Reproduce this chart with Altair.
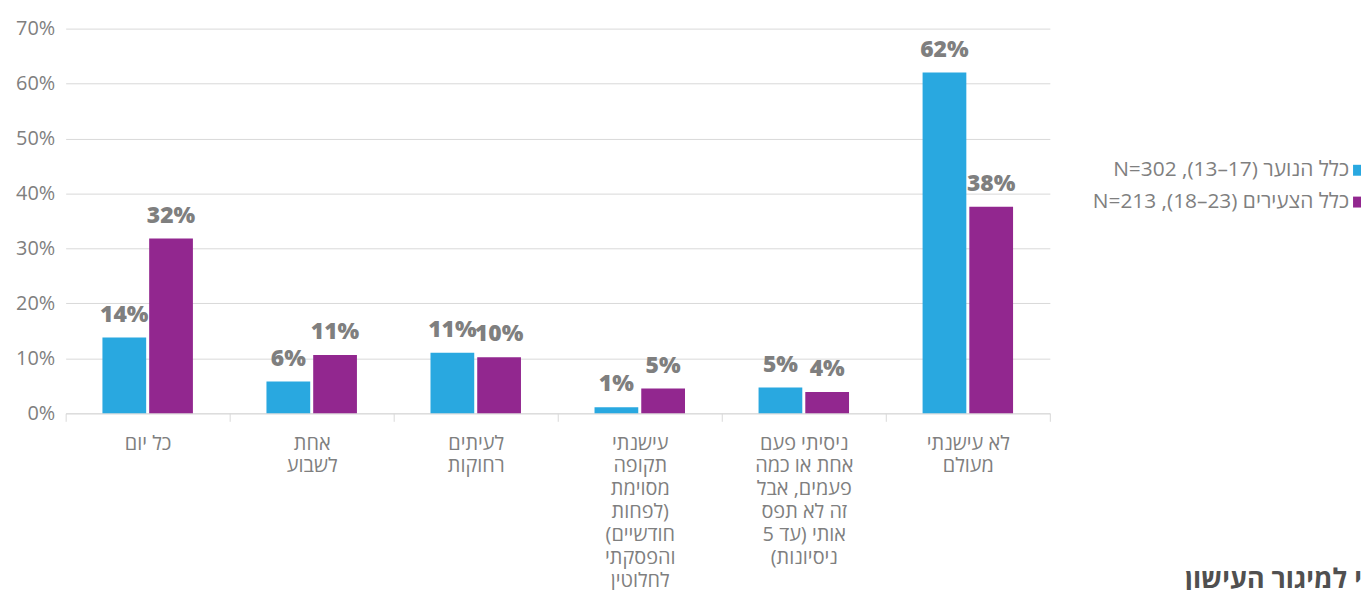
import altair as alt
import pandas as pd

LRI, RLI, PDI = "\u2066", "\u2067", "\u2069"

categories = [
    "כל יום",
    "אחת|לשבוע",
    "לעיתים|רחוקות",
    "עישנתי|תקופה|מסוימת|לפחות)|(חודשיים|והפסקתי|לחלוטין",
    "ניסיתי פעם|אחת או כמה|פעמים, אבל|זה לא תפס|אותי (עד 5|(ניסיונות",
    "לא עישנתי|מעולם",
]
series = [
    RLI + "כלל הנוער (" + LRI + "13–17" + PDI + "), N=302" + PDI,
    RLI + "כלל הצעירים (" + LRI + "18–23" + PDI + "), N=213" + PDI,
]
youth = [13.8, 5.8, 11.0, 1.1, 4.7, 62.0]
young_adults = [31.8, 10.6, 10.2, 4.5, 3.9, 37.6]
youth_labels = ["14%", "6%", "11%", "1%", "5%", "62%"]
young_labels = ["32%", "11%", "10%", "5%", "4%", "38%"]
y_ticks = [0, 10, 20, 30, 40, 50, 60, 70]
colors = ["#29a8e0", "#92278f"]
logo_text = ["המיזם הלאומי למיגור העישון"]

rows = []
for i, c in enumerate(categories):
    rows.append(dict(cat=c, series=series[0], value=youth[i], label=youth_labels[i]))
    rows.append(dict(cat=c, series=series[1], value=young_adults[i], label=young_labels[i]))
df = pd.DataFrame(rows)

FONT = "Open Sans, DejaVu Sans, sans-serif"
GRAY = "#7f7f7f"
LIGHT = "#d9d9d9"

x = alt.X(
    "cat:N",
    sort=categories,
    scale=alt.Scale(paddingInner=0, paddingOuter=0),
    axis=alt.Axis(
        title=None,
        labelExpr="split(datum.label, '|')",
        labelAngle=0,
        labelFontSize=20,
        labelColor=GRAY,
        labelFont=FONT,
        labelLineHeight=23,
        labelPadding=12,
        labelBaseline="top",
        labelLimit=400,
        labelOverlap=False,
        ticks=True,
        tickBand="extent",
        tickSize=8,
        tickColor=LIGHT,
        domainColor=LIGHT,
        grid=False,
    ),
)
xo = alt.XOffset(
    "series:N",
    sort=series,
    scale=alt.Scale(paddingInner=0.064, paddingOuter=0.787),
)
y = alt.Y(
    "value:Q",
    scale=alt.Scale(domain=[0, 70]),
    axis=alt.Axis(
        title=None,
        values=y_ticks,
        labelExpr="datum.value + '%'",
        labelFontSize=20,
        labelColor=GRAY,
        labelFont=FONT,
        domain=False,
        ticks=False,
        labelPadding=11,
        gridColor=LIGHT,
    ),
)
color = alt.Color(
    "series:N",
    sort=series,
    scale=alt.Scale(domain=series, range=colors),
    legend=alt.Legend(
        title=None,
        orient="none",
        legendX=1290,
        legendY=132,
        direction="vertical",
        symbolType="square",
        symbolSize=121,
        symbolStrokeWidth=0,
        labelAlign="right",
        labelOffset={"expr": "-20"},
        labelFontSize=21,
        labelColor=GRAY,
        labelFont=FONT,
        rowPadding=10,
        padding=0,
        labelLimit=400,
    ),
)

bars = alt.Chart(df).mark_bar().encode(x=x, xOffset=xo, y=y, color=color)
labels = alt.Chart(df).mark_text(
    dy=-16, baseline="alphabetic", fontSize=23, fontWeight=800, color=GRAY, font=FONT
).encode(x=x, xOffset=xo, y=y, text="label:N")

logo = alt.Chart(pd.DataFrame({"t": logo_text})).mark_text(
    align="left", baseline="alphabetic", fontSize=27, fontWeight="bold", color="#505050", font=FONT
).encode(x=alt.value(1126), y=alt.value(563), text="t:N")

chart = (
    alt.layer(bars, labels, logo)
    .properties(
        width=990,
        height=387,
        padding={"left": 58, "top": 19, "right": 313, "bottom": 176},
        autosize=alt.AutoSizeParams(type="none"),
    )
    .configure_view(stroke=None)
)

chart.save("out.html", embed_options={"renderer": "svg", "actions": False})
